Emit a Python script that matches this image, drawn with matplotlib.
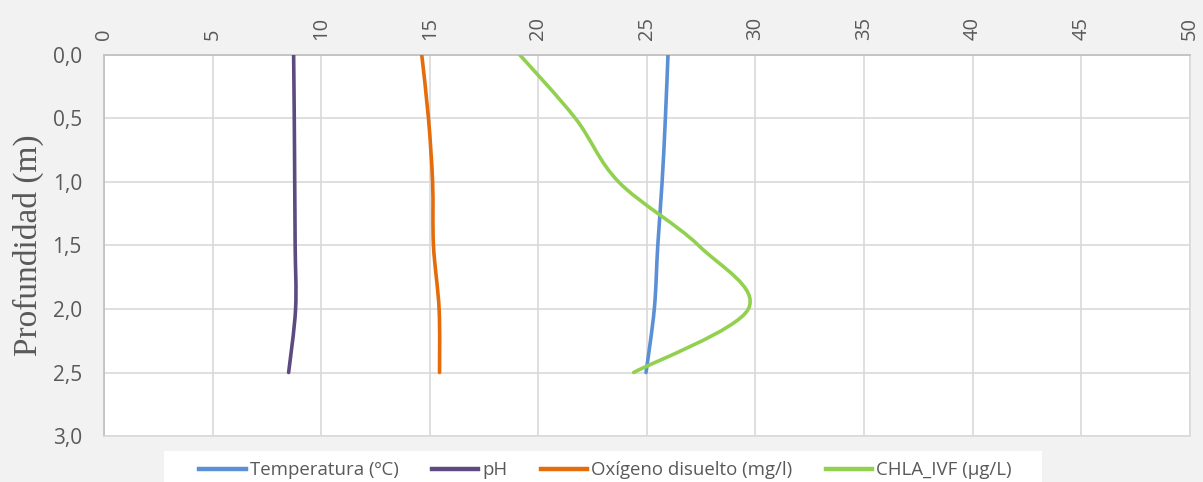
import numpy as np
import matplotlib
matplotlib.use("Agg")
import matplotlib.pyplot as plt
from matplotlib.path import Path
from matplotlib.patches import PathPatch, Rectangle
from matplotlib.lines import Line2D

# ─── data ─────────────────────────────────────────────────────────────────────
depth       = [0.0, 0.5, 1.0, 1.5, 2.0, 2.5]
temperatura = [25.97, 25.85, 25.70, 25.50, 25.34, 24.96]
ph          = [8.73, 8.76, 8.78, 8.80, 8.82, 8.50]
oxigeno     = [14.63, 14.94, 15.13, 15.17, 15.43, 15.45]
chla        = [19.15, 21.71, 23.70, 27.38, 29.67, 24.39]

series_names  = ["Temperatura (ºC)", "pH", "Oxígeno disuelto (mg/l)", "CHLA_IVF (µg/L)"]
series_colors = ["#5b8fd6", "#5c4a80", "#e46c0a", "#92d050"]

x_ticks = list(range(0, 51, 5))
y_ticks = [0.0, 0.5, 1.0, 1.5, 2.0, 2.5, 3.0]


def smooth_path(xs, ys):
    """Excel-like smoothed line: cubic Bezier segments through every point."""
    pts = np.column_stack([xs, ys]).astype(float)
    n = len(pts)
    verts = [pts[0]]
    codes = [Path.MOVETO]
    for i in range(n - 1):
        p0 = pts[i - 1] if i > 0 else pts[i]
        p1, p2 = pts[i], pts[i + 1]
        p3 = pts[i + 2] if i + 2 < n else pts[i + 1]
        c1 = p1 + (p2 - p0) / 6.0
        c2 = p2 - (p3 - p1) / 6.0
        verts += [c1, c2, p2]
        codes += [Path.CURVE4] * 3
    return Path(verts, codes)


fig = plt.figure(figsize=(12.03, 4.82), dpi=100, facecolor="#f2f2f2")
ax = fig.add_axes([0.0865, 0.0954, 0.9025, 0.7906])
ax.set_facecolor("white")

for name, vals, col in zip(series_names, [temperatura, ph, oxigeno, chla], series_colors):
    patch = PathPatch(smooth_path(vals, depth), facecolor="none", edgecolor=col,
                      lw=2.6, capstyle="round", joinstyle="round", zorder=3)
    ax.add_patch(patch)

ax.set_xlim(0, 50)
ax.set_ylim(3.0, 0.0)
ax.set_xticks(x_ticks)
ax.set_yticks(y_ticks)
ax.set_yticklabels([f"{v:.1f}".replace(".", ",") for v in y_ticks])
ax.xaxis.tick_top()
ax.tick_params(axis="x", labelrotation=90, length=0, pad=11,
               labelsize=14.5, labelcolor="#595959")
ax.tick_params(axis="y", length=0, pad=16, labelsize=15, labelcolor="#595959")
for lab in ax.get_xticklabels() + ax.get_yticklabels():
    lab.set_family("Open Sans")

ax.grid(True, color="#d9d9d9", lw=1.2)
ax.set_axisbelow(True)
for side, sp in ax.spines.items():
    sp.set_color("#d9d9d9")
    sp.set_linewidth(1.2)
ax.spines["top"].set_color("#bfbfbf")
ax.spines["left"].set_color("#bfbfbf")

ax.set_ylabel("Profundidad (m)", family="Liberation Serif", fontsize=24,
              color="#595959", labelpad=6)

# white legend box (Excel style, bleeds off the bottom edge)
fig.patches.append(Rectangle((0.1363, 0.0), 0.730, 0.0643, transform=fig.transFigure,
                             facecolor="white", edgecolor="none", zorder=0))

handles = [Line2D([0], [0], color=c, lw=3.2) for c in series_colors]
leg = fig.legend(handles, series_names, loc="center",
                 bbox_to_anchor=(0.5033, 0.0245), ncol=4, frameon=False,
                 borderpad=0, handlelength=2.5, handletextpad=0.2,
                 columnspacing=1.8,
                 prop={"family": "Open Sans", "size": 13.4})
for t in leg.get_texts():
    t.set_color("#595959")

fig.savefig("out.png", dpi=100, facecolor=fig.get_facecolor())
